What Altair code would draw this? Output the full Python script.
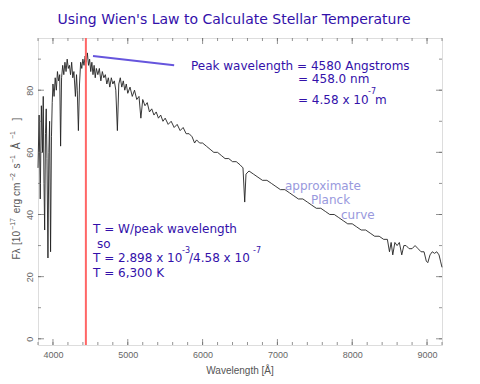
import altair as alt
import pandas as pd

# ---- data ----
wavelength = [3800, 3815, 3830, 3845, 3860, 3870, 3880, 3889, 3900, 3910, 3920, 3933, 3945, 3955, 3968, 3980, 3990,
              4000, 4015, 4030, 4045, 4060, 4075, 4090, 4102, 4115, 4130, 4145, 4160, 4175, 4190, 4205, 4220, 4235,
              4250, 4265, 4280, 4300, 4315, 4325, 4340, 4355, 4370, 4385, 4400, 4415, 4430, 4445, 4460, 4475, 4490,
              4505, 4520, 4535, 4550, 4565, 4580, 4600, 4620, 4640, 4660, 4680, 4700, 4720, 4740, 4760, 4780, 4800,
              4820, 4840, 4861, 4880, 4900, 4920, 4940, 4960, 4980, 5000, 5030, 5060, 5090, 5120, 5150, 5175, 5200,
              5230, 5260, 5290, 5320, 5350, 5380, 5410, 5440, 5470, 5500, 5540, 5580, 5620, 5660, 5700, 5740, 5780,
              5820, 5860, 5893, 5920, 5960, 6000, 6050, 6100, 6150, 6200, 6250, 6300, 6350, 6400, 6450, 6500, 6540,
              6563, 6580, 6620, 6680, 6740, 6800, 6860, 6920, 6980, 7040, 7100, 7160, 7220, 7280, 7340, 7400, 7460,
              7520, 7580, 7640, 7700, 7760, 7820, 7880, 7940, 8000, 8060, 8120, 8180, 8240, 8300, 8360, 8420, 8470,
              8498, 8520, 8542, 8570, 8600, 8630, 8662, 8690, 8720, 8760, 8800, 8840, 8880, 8920, 8960, 8990, 9010,
              9040, 9070, 9100, 9130, 9160, 9180, 9200]
flux = [55, 72, 45, 75, 60, 78, 50, 35, 66, 74, 58, 26, 60, 70, 28, 65, 76,
        82, 78, 84, 80, 86, 83, 85, 62, 84, 88, 85, 89, 86, 90, 87, 88, 85,
        89, 84, 86, 78, 85, 80, 67, 82, 89, 87, 90, 88, 91, 89, 92, 88, 90,
        86, 89, 85, 88, 84, 87, 85, 87, 83, 86, 84, 85, 82, 84, 81, 84, 82,
        83, 80, 67, 82, 84, 81, 83, 80, 82, 79, 81, 78, 80, 77, 78, 71, 77,
        75, 76, 73, 74, 72, 73, 71, 72, 70, 71, 69, 70, 68, 69, 67, 68, 66,
        66, 65, 63, 64, 63, 63, 62, 61, 60, 60, 59, 58, 58, 57, 57, 56, 55,
        44, 53, 54, 53, 52, 51, 51, 50, 49, 48, 48, 47, 46, 45, 45, 44, 43,
        42, 42, 41, 40, 40, 39, 38, 37, 37, 36, 35, 35, 34, 33, 33, 32, 32,
        28, 31, 27, 31, 30, 31, 27, 30, 30, 29, 29, 30, 29, 28, 28, 25, 24.5,
        27, 28, 27.5, 28, 27, 25, 23]

x_major = [4000, 5000, 6000, 7000, 8000, 9000]
x_minor = [3800, 4000, 4200, 4400, 4600, 4800, 5000, 5200, 5400, 5600, 5800, 6000, 6200, 6400, 6600,
           6800, 7000, 7200, 7400, 7600, 7800, 8000, 8200, 8400, 8600, 8800, 9000, 9200]
y_major = [0, 20, 40, 60, 80]
y_minor = [0, 10, 20, 30, 40, 50, 60, 70, 80, 90]

peak_marker = 4440
pointer_x = [4535, 5620]
pointer_y = [91, 88]

W, H = 404, 307
XDOM = [3800, 9200]
YDOM = [-2, 96.8]
TXT = "#3311aa"
AX = "#666666"
FONT = "DejaVu Sans"

xs = alt.Scale(domain=XDOM, nice=False, zero=False)
ys = alt.Scale(domain=YDOM, nice=False, zero=False)

spec = pd.DataFrame({"w": wavelength, "f": flux})

line = alt.Chart(spec).mark_line(color="#222222", strokeWidth=0.9).encode(
    x=alt.X("w:Q", scale=xs, axis=alt.Axis(values=x_major, ticks=False, domain=False, grid=False,
                                           labelColor=AX, labelFont="Liberation Sans", labelFontSize=9,
                                           labelPadding=5, title=None, format="d")),
    y=alt.Y("f:Q", scale=ys, axis=alt.Axis(values=y_major, ticks=False, domain=False, grid=False,
                                           labelColor=AX, labelFont="Liberation Sans", labelFontSize=9,
                                           labelAngle=-90, labelPadding=4, title=None)),
)

red = alt.Chart(pd.DataFrame({"w": [peak_marker]})).mark_rule(color="#ff6666", strokeWidth=2).encode(
    x=alt.X("w:Q", scale=xs))

ptr = alt.Chart(pd.DataFrame({"x1": [pointer_x[0]], "x2": [pointer_x[1]],
                              "y1": [pointer_y[0]], "y2": [pointer_y[1]]})).mark_rule(
    color="#6655dd", strokeWidth=2).encode(
    x=alt.X("x1:Q", scale=xs), x2="x2:Q", y=alt.Y("y1:Q", scale=ys), y2="y2:Q")

def xticks(vals, size, top):
    y = size / 2 if top else H - size / 2
    return alt.Chart(pd.DataFrame({"v": vals})).mark_tick(
        orient="vertical", size=size, thickness=1, color=AX).encode(
        x=alt.X("v:Q", scale=xs), y=alt.value(y))

def yticks(vals, size, right):
    x = W - size / 2 if right else size / 2
    return alt.Chart(pd.DataFrame({"v": vals})).mark_tick(
        orient="horizontal", size=size, thickness=1, color=AX).encode(
        y=alt.Y("v:Q", scale=ys), x=alt.value(x))

ticks = [xticks(x_minor, 3, False), xticks(x_major, 6, False), xticks(x_minor, 3, True), xticks(x_major, 6, True),
         yticks(y_minor, 3, False), yticks(y_major, 6, False), yticks(y_minor, 3, True), yticks(y_major, 6, True)]

def txt(s, x, y, size=12, color=TXT, align="left", angle=0, font=FONT):
    return alt.Chart(pd.DataFrame({"t": [s]})).mark_text(
        align=align, baseline="middle", fontSize=size, color=color, font=font, angle=angle).encode(
        x=alt.value(x), y=alt.value(y), text="t:N")

GR = "#555555"
LF = "Liberation Sans"

def ytitle(s, y, sup=False):
    return txt(s, -25 if sup else -21, y, size=7 if sup else 10, color=GR, align="center", angle=270, font=LF)

texts = [
    txt("Using Wien's Law to Calculate Stellar Temperature", 196, -18, size=14, align="center"),
    txt("Peak wavelength = 4580 Angstroms", 153, 28),
    txt("= 458.0 nm", 260, 41),
    txt("= 4.58 x 10", 260, 62),
    txt("-7", 330, 54, size=8),
    txt("m", 337, 62),
    txt("T = W/peak wavelength", 55, 191),
    txt("so", 59, 206),
    txt("T = 2.898 x 10", 55, 220),
    txt("-3", 144, 213, size=8),
    txt("/4.58 x 10", 151, 220),
    txt("-7", 215, 213, size=8),
    txt("T = 6,300 K", 55, 235),
    txt("approximate", 247, 148, color="#9999dd"),
    txt("Planck", 273, 162, color="#9999dd"),
    txt("curve", 303, 177, color="#9999dd"),
    txt("Wavelength [Å]", 202, 333, size=10, color=GR, align="center", font=LF),
    ytitle("Fλ", 216),
    ytitle("[10", 200),
    ytitle("−17", 186, sup=True),
    ytitle("erg cm", 160),
    ytitle("−2", 139, sup=True),
    ytitle("s", 128),
    ytitle("−1", 121, sup=True),
    ytitle("Å", 108),
    ytitle("−1", 97, sup=True),
    ytitle("]", 81),
]

chart = alt.layer(line, red, ptr, *ticks, *texts).properties(
    width=W, height=H,
    autosize=alt.AutoSizeParams(type="none"),
    padding={"left": 30, "top": 30, "right": 30, "bottom": 37},
).configure_view(stroke="#808080", strokeWidth=1.5).configure(background="white")

chart.save("out.html", embed_options={"renderer": "svg", "actions": False})
